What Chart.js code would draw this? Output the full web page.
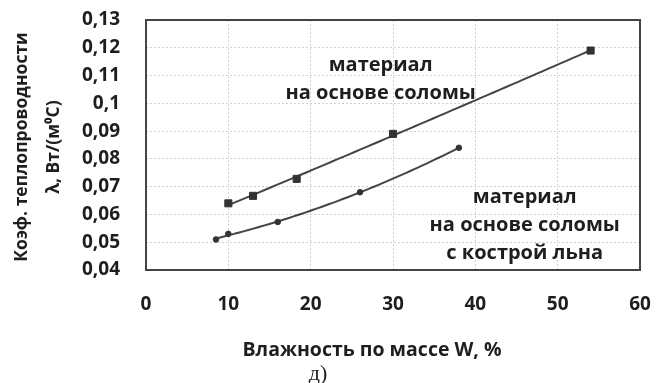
<!DOCTYPE html>
<html>
<head>
<meta charset="utf-8">
<script src="https://cdn.jsdelivr.net/npm/chart.js@4.4.1/dist/chart.umd.min.js"></script>
<style>
  html, body { margin: 0; padding: 0; background: #fff; }
  #wrap { width: 658px; height: 383px; }
</style>
</head>
<body>
<div id="wrap"><canvas id="chart" width="658" height="383"></canvas></div>
<script>
// moisture W (%) vs. thermal conductivity λ
const strawW = [10, 13, 18.3, 30, 54];
const strawL = [0.064, 0.0667, 0.0728, 0.089, 0.119];
const flaxW = [8.5, 10, 16, 26, 38];
const flaxL = [0.051, 0.053, 0.0573, 0.068, 0.084];

const xTicks = [0, 10, 20, 30, 40, 50, 60];
const yTicks = [0.04, 0.05, 0.06, 0.07, 0.08, 0.09, 0.1, 0.11, 0.12, 0.13];

const strawText = ['материал', 'на основе соломы'];
const flaxText = ['материал', 'на основе соломы', 'с кострой льна'];
const yTitle = ['Коэф. теплопроводности', 'λ, Вт/(м⁰С)'];
const xTitle = 'Влажность по массе W, %';
const caption = 'д)';

const FONT = '"Open Sans", sans-serif';
const INK = '#1e1e1e';

const toPoints = (xs, ys) => xs.map((x, i) => ({ x: x, y: ys[i] }));

// least squares quadratic, used for the trend curves
function quadFit(xs, ys) {
  const n = xs.length;
  let s = [0, 0, 0, 0, 0], t = [0, 0, 0];
  for (let i = 0; i < n; i++) {
    for (let k = 0; k < 5; k++) s[k] += Math.pow(xs[i], k);
    for (let k = 0; k < 3; k++) t[k] += ys[i] * Math.pow(xs[i], k);
  }
  const m = [[s[0], s[1], s[2], t[0]], [s[1], s[2], s[3], t[1]], [s[2], s[3], s[4], t[2]]];
  for (let c = 0; c < 3; c++) {
    for (let r = c + 1; r < 3; r++) {
      const f = m[r][c] / m[c][c];
      for (let k = c; k < 4; k++) m[r][k] -= f * m[c][k];
    }
  }
  const a = [0, 0, 0];
  for (let r = 2; r >= 0; r--) {
    let v = m[r][3];
    for (let k = r + 1; k < 3; k++) v -= m[r][k] * a[k];
    a[r] = v / m[r][r];
  }
  return x => a[0] + a[1] * x + a[2] * x * x;
}

const trendPlugin = {
  id: 'trend',
  beforeDatasetsDraw(chart) {
    const ctx = chart.ctx, xs = chart.scales.x, ys = chart.scales.y;
    [[strawW, strawL], [flaxW, flaxL]].forEach(([w, l]) => {
      const f = quadFit(w, l);
      const x0 = Math.min(...w), x1 = Math.max(...w);
      ctx.save();
      ctx.beginPath();
      for (let i = 0; i <= 60; i++) {
        const x = x0 + (x1 - x0) * i / 60;
        const px = xs.getPixelForValue(x), py = ys.getPixelForValue(f(x));
        if (i === 0) ctx.moveTo(px, py); else ctx.lineTo(px, py);
      }
      ctx.strokeStyle = '#444';
      ctx.lineWidth = 2;
      ctx.stroke();
      ctx.restore();
    });
  }
};

const decorPlugin = {
  id: 'decor',
  afterDraw(chart) {
    const ctx = chart.ctx, a = chart.chartArea;
    const xs = chart.scales.x, ys = chart.scales.y;
    ctx.save();
    // frame
    ctx.strokeStyle = '#444';
    ctx.lineWidth = 2;
    ctx.strokeRect(a.left, a.top, a.right - a.left, a.bottom - a.top);

    ctx.fillStyle = INK;
    ctx.textAlign = 'center';
    ctx.textBaseline = 'middle';
    ctx.font = '700 20px ' + FONT;
    strawText.forEach((s, i) => ctx.fillText(s, xs.getPixelForValue(28.5), ys.getPixelForValue(0.1138) + i * 28));
    flaxText.forEach((s, i) => ctx.fillText(s, xs.getPixelForValue(46), ys.getPixelForValue(0.066) + i * 28));

    // y axis title, rotated
    ctx.font = '700 17.5px ' + FONT;
    ctx.translate(0, 147);
    ctx.rotate(-Math.PI / 2);
    ctx.fillText(yTitle[0], 0, 22);
    ctx.fillText(yTitle[1], 0, 54);
    ctx.setTransform(1, 0, 0, 1, 0, 0);

    ctx.font = '700 19.5px ' + FONT;
    ctx.fillText(xTitle, 372, 350);
    ctx.font = '22px "Liberation Serif", serif';
    ctx.fillText(caption, 318, 374);
    ctx.restore();
  }
};

new Chart(document.getElementById('chart'), {
  type: 'scatter',
  data: {
    datasets: [
      {
        label: strawText.join(' '),
        data: toPoints(strawW, strawL),
        pointStyle: 'rect',
        pointRadius: 5,
        backgroundColor: '#333',
        borderColor: '#333',
        showLine: false
      },
      {
        label: flaxText.join(' '),
        data: toPoints(flaxW, flaxL),
        pointStyle: 'circle',
        pointRadius: 2.8,
        backgroundColor: '#333',
        borderColor: '#333',
        showLine: false
      }
    ]
  },
  options: {
    responsive: false,
    animation: false,
    layout: { padding: { top: 20, right: 18, left: 0, bottom: 0 } },
    plugins: { legend: { display: false }, tooltip: { enabled: false } },
    scales: {
      x: {
        type: 'linear',
        min: 0,
        max: 60,
        afterFit(scale) { scale.height = 113; scale.paddingLeft = 0; scale.paddingRight = 0; },
        afterBuildTicks(scale) { scale.ticks = xTicks.map(v => ({ value: v })); },
        grid: { color: '#cfcfcf', drawTicks: false },
        border: { display: false, dash: [2, 2] },
        ticks: { padding: 23, color: INK, font: { family: FONT, size: 19, weight: '700' } }
      },
      y: {
        type: 'linear',
        min: 0.04,
        max: 0.13,
        afterFit(scale) { scale.width = 146; scale.paddingTop = 0; scale.paddingBottom = 0; },
        afterBuildTicks(scale) { scale.ticks = yTicks.map(v => ({ value: v })); },
        grid: { color: '#cfcfcf', drawTicks: false },
        border: { display: false, dash: [2, 2] },
        ticks: {
          padding: 26,
          color: INK,
          font: { family: FONT, size: 19, weight: '700' },
          callback: v => String(Math.round(v * 100) / 100).replace('.', ',')
        }
      }
    }
  },
  plugins: [trendPlugin, decorPlugin]
});
</script>
</body>
</html>
